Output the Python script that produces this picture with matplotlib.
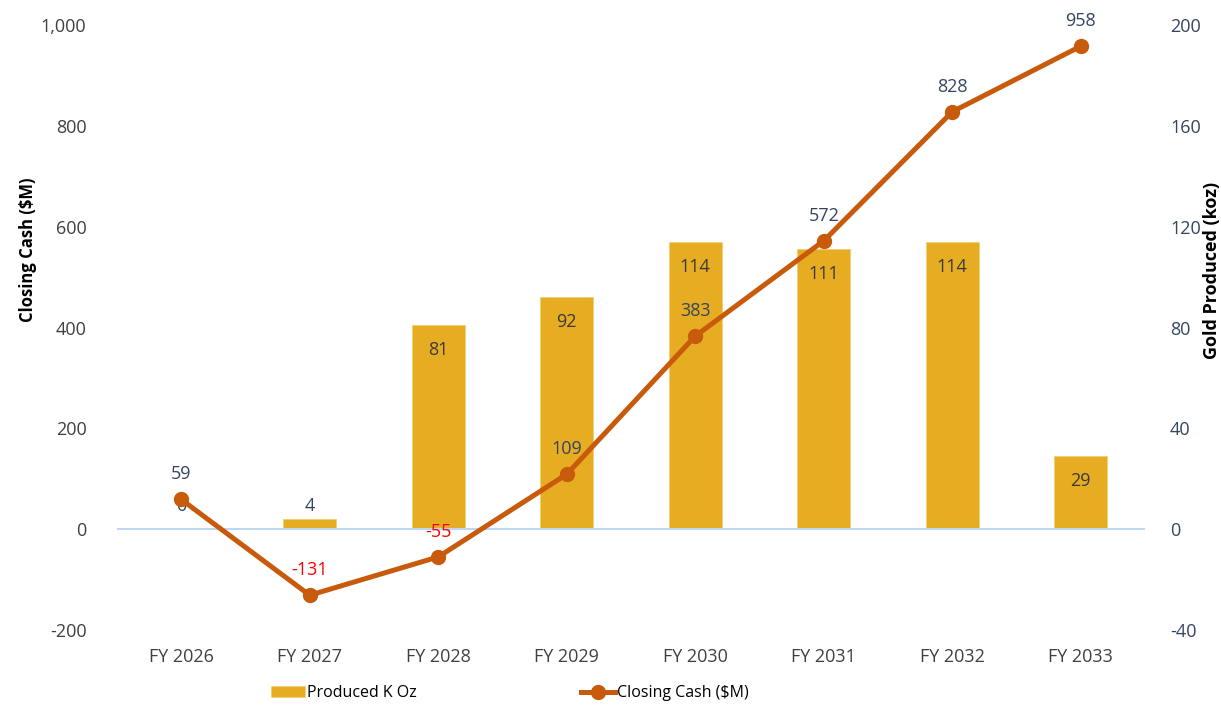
import matplotlib
matplotlib.use("Agg")
import matplotlib.pyplot as plt

plt.rcParams['font.family'] = ['Open Sans', 'DejaVu Sans']
plt.rcParams['axes.unicode_minus'] = False

years = ["FY 2026", "FY 2027", "FY 2028", "FY 2029", "FY 2030", "FY 2031", "FY 2032", "FY 2033"]
gold_koz = [0, 4, 81, 92, 114, 111, 114, 29]
closing_cash = [59, -131, -55, 109, 383, 572, 828, 958]

bar_color = '#E6AC22'
line_color = '#C85A0C'
label_dark = '#3A3A3A'
label_slate = '#34455E'

fig = plt.figure(figsize=(12.21, 7.09), dpi=100)
ax = fig.add_axes([0.0958, 0.1114, 0.842, 0.8533])
ax2 = ax.twinx()

x = list(range(len(years)))

# bars on the right axis, line on the left axis (line drawn on top)
ax.set_zorder(ax2.get_zorder() + 1)
ax.patch.set_visible(False)

bars = ax2.bar(x, gold_koz, width=0.41, color=bar_color, edgecolor='#F2CE72', linewidth=0.6,
               label='Produced K Oz')
for xi, v in zip(x, gold_koz):
    if v < 10:   # too small for an inside label -> sits just above the axis
        ax2.annotate(f'{v}', (xi, 0), xytext=(0, 17), textcoords='offset points',
                     ha='center', va='center', fontsize=13, color=label_slate)
    else:
        ax2.annotate(f'{v}', (xi, v), xytext=(0, -18), textcoords='offset points',
                     ha='center', va='center', fontsize=13, color=label_dark)

ax.axhline(0, color='#BDD7EE', lw=1.5, zorder=0)
line, = ax.plot(x, closing_cash, color=line_color, lw=3.6, marker='o', markersize=10,
                label='Closing Cash ($M)')
for xi, v in zip(x, closing_cash):
    c = 'red' if v < 0 else label_slate
    ax.annotate(f'{v}', (xi, v), xytext=(0, 18), textcoords='offset points',
                ha='center', va='center', fontsize=13, color=c)

ax.set_xlim(-0.5, len(years) - 0.5)
ax.set_ylim(-200, 1000)
ax.set_yticks(range(-200, 1001, 200))
ax.set_yticklabels([f'{v:,}' for v in range(-200, 1001, 200)])
ax2.set_ylim(-40, 200)
ax2.set_yticks(range(-40, 201, 40))

ax.set_xticks(x)
ax.set_xticklabels(years)

for a in (ax, ax2):
    for s in a.spines.values():
        s.set_visible(False)
ax.tick_params(axis='y', length=0, pad=22, labelsize=13, labelcolor='#404040')
ax.tick_params(axis='x', length=0, pad=13, labelsize=13, labelcolor='#404040')
ax2.tick_params(axis='y', length=0, pad=18, labelsize=13, labelcolor=label_slate)

ax.set_ylabel('Closing Cash ($M)', fontsize=12, fontweight='bold')
ax.yaxis.set_label_coords(-0.078, 0.628)
ax2.set_ylabel('Gold Produced (koz)', fontsize=13, fontweight='bold')
ax2.yaxis.set_label_coords(1.056, 0.595)

fig.legend([bars, line], ['Produced K Oz', 'Closing Cash ($M)'], loc='center',
           bbox_to_anchor=(0.4177, 0.022), ncol=2, frameon=False, fontsize=11.5,
           columnspacing=10.3, handlelength=2.1, handletextpad=0.15)

fig.savefig('out.png', dpi=100)
